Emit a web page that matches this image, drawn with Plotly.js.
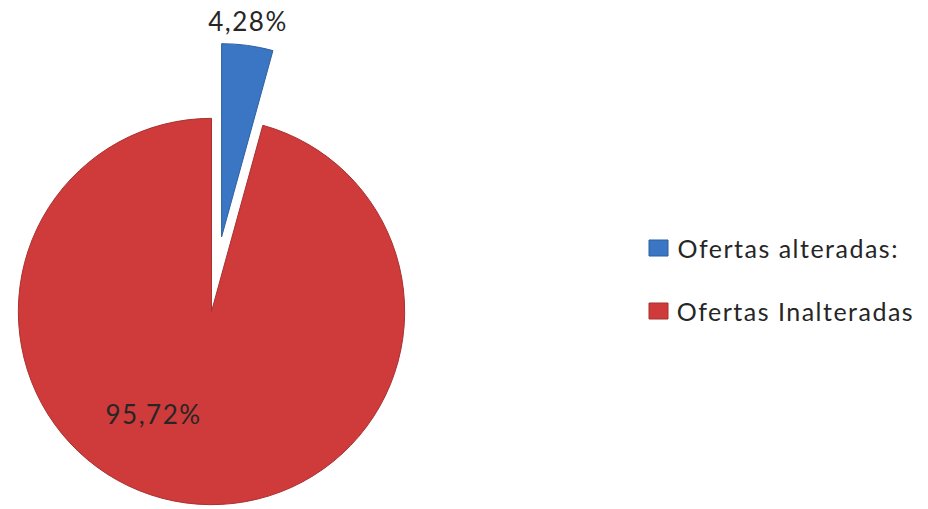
<!DOCTYPE html>
<html><head><meta charset="utf-8">
<script src="https://cdn.plot.ly/plotly-3.0.1.min.js"></script>
<style>
html,body{margin:0;padding:0;overflow:hidden;background:#fff;width:928px;height:509px;position:relative}
#chart{position:absolute;left:-57px;top:0;width:985px;height:580px}
#chart svg text{letter-spacing:1.5px}
</style>
</head><body><div id="chart"></div>
<script>
const labels = ['Ofertas alteradas:', 'Ofertas Inalteradas'];
const values = [4.28, 95.72];
const colors = ['#3a76c4', '#cf3a3a'];
const edgeColors = ['#2d5f9f', '#a93131'];

const TOP = 43, PH = 537, W = 985, H = TOP + PH, OFFX = 57;
const px = X => (X + OFFX) / W;
const py = Y => 1 - (Y - TOP) / PH;
const total = values.reduce((a, b) => a + b, 0);
const fmtPct = v => (v / total * 100).toFixed(2).replace('.', ',') + '%';

const trace = {
  type: 'pie',
  labels: labels,
  values: values,
  sort: false,
  direction: 'clockwise',
  rotation: 0,
  pull: [0.39, 0],
  marker: {colors: colors, line: {color: edgeColors, width: 1}},
  textinfo: 'none',
  domain: {x: [0, PH / W], y: [0, 1]},
  showlegend: false,
  hoverinfo: 'label+percent'
};

const shapes = [];
const annotations = [];
const legendRows = [248, 311];
labels.forEach((lab, i) => {
  const cy = legendRows[i];
  shapes.push({type: 'rect', xref: 'paper', yref: 'paper',
    x0: px(649), x1: px(668), y0: py(cy - 8), y1: py(cy + 8),
    fillcolor: colors[i], line: {color: edgeColors[i], width: 1}});
  annotations.push({xref: 'paper', yref: 'paper', x: px(689), y: py(cy),
    xanchor: 'left', yanchor: 'middle', showarrow: false, text: lab,
    font: {family: 'Lato, sans-serif', size: 25, color: '#262626'}});
});
// slice percentages placed as in the reference
const pctPos = [[248, 21], [153, 414]];
values.forEach((v, i) => {
  annotations.push({xref: 'paper', yref: 'paper', x: px(pctPos[i][0]), y: py(pctPos[i][1]),
    xanchor: 'center', yanchor: 'middle', showarrow: false, text: fmtPct(v),
    font: {family: 'Lato, sans-serif', size: 26, color: '#262626'}});
});

const layout = {
  width: W, height: H,
  margin: {l: 0, r: 0, t: TOP, b: 0},
  paper_bgcolor: '#ffffff',
  showlegend: false,
  shapes: shapes,
  annotations: annotations
};

Plotly.newPlot('chart', [trace], layout, {displayModeBar: false, staticPlot: true});
</script>
</body></html>
